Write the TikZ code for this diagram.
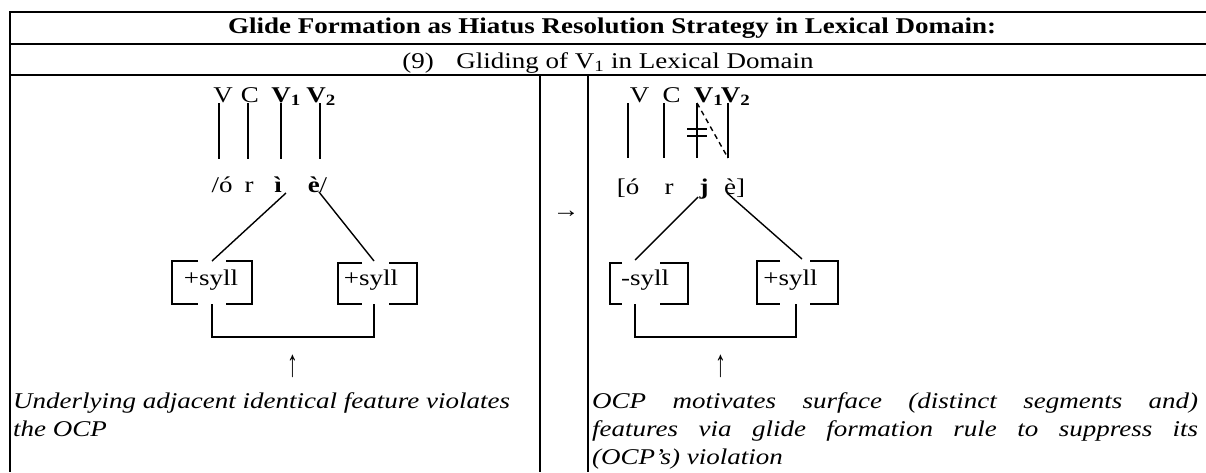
\documentclass[tikz,border=0pt]{standalone}
\usepackage{fontspec}
\setmainfont[FakeStretch=1.2]{Liberation Serif}
\newcommand{\uparr}{\scalebox{0.8}[1.7]{↑}}
\begin{document}
\begin{tikzpicture}[x=1pt,y=-1pt,
  font=\fontsize{22.5}{27}\selectfont,
  rule/.style={line width=2pt},
  cell/.style={line width=1.3pt},
  tree/.style={line width=1.4pt},
  seg/.style={inner sep=0pt, anchor=base},
  feat/.style={inner sep=0pt, anchor=base},
  note/.style={inner sep=0pt, anchor=base west, font=\fontsize{22.5}{27}\selectfont\itshape},
]
\useasboundingbox (0,0) rectangle (1206,472);

% ---- table frame ----
\draw[rule] (10,12) -- (1206,12);
\draw[rule] (10,43.5) -- (1206,43.5);
\draw[rule] (10,75) -- (1206,75);
\draw[rule] (10,11) -- (10,472);
\draw[cell] (540,75) -- (540,472);
\draw[cell] (588,75) -- (588,472);

\node[anchor=base] (title) at (612,33) {\bfseries Glide Formation as Hiatus Resolution Strategy in Lexical Domain:};
\node[anchor=base] (sub) at (608,68.5) {(9)\quad Gliding of V\textsubscript{1} in Lexical Domain};

% ---- left cell: underlying form ----
\node[seg] (lV)  at (223,102) {V};
\node[seg] (lC)  at (250,102) {C};
\node[seg] (lV1) at (286,102) {\textbf{V\textsubscript{1}}};
\node[seg] (lV2) at (321,102) {\textbf{V\textsubscript{2}}};

\node[seg] (lo) at (222,192) {/ó};
\node[seg] (lr) at (249,192) {r};
\node[seg] (li) at (278,192) {\textbf{ì}};
\node[seg] (le) at (317.5,192) {\textbf{è}/};

\foreach \n/\x in {a/219,b/248,c/281,d/320}{
  \coordinate (lt\n) at (\x,103);
  \coordinate (lb\n) at (\x,159);
  \draw[tree] (lt\n) -- (lb\n);
}

% feature boxes
\node[feat] (lf1) at (211,285) {+syll};
\node[feat] (lf2) at (371,285) {+syll};
\coordinate (lg1) at (212,261);
\coordinate (lg2) at (374,261);
\coordinate (lis) at (286,193);
\coordinate (les) at (319,192);
\draw[tree] (lis) -- (lg1);
\draw[tree] (les) -- (lg2);
% brackets
\draw[tree] (198,261) -- (172,261) -- (172,304) -- (198,304);
\draw[tree] (226,261) -- (252,261) -- (252,304) -- (226,304);
\draw[tree] (362,263) -- (338,263) -- (338,304) -- (362,304);
\draw[tree] (389,263) -- (417,263) -- (417,304) -- (389,304);
% linking line
\coordinate (lh1) at (212,304);
\coordinate (lh2) at (374,304);
\draw[tree] (lh1) -- (212,337) -- (374,337) -- (lh2);

\node[inner sep=0pt] (lup) at (293,366) {\uparr};
\node[note] (lnote1) at (13,408) {Underlying adjacent identical feature violates};
\node[note] (lnote2) at (13,436) {the OCP};

% ---- middle cell ----
\node[inner sep=0pt] (arr) at (566,214) {→};

% ---- right cell: surface form ----
\node[seg] (rV)  at (639.5,102) {V};
\node[seg] (rC)  at (671.5,102) {C};
\node[seg] (rV1) at (708.5,102) {\textbf{V\textsubscript{1}}};
\node[seg] (rV2) at (735.5,102) {\textbf{V\textsubscript{2}}};

\node[seg] (ro) at (628,194) {[ó};
\node[seg] (rr) at (669,194) {r};
\node[seg] (rj) at (704,194) {\textbf{j}};
\node[seg] (re) at (734.5,194) {è]};

\foreach \n/\x in {a/628,b/664,c/697,d/728}{
  \coordinate (rt\n) at (\x,103);
  \coordinate (rb\n) at (\x,158);
  \draw[tree] (rt\n) -- (rb\n);
}
% delinked V1 and new association to V2
\draw[tree] (687,129) -- (707,129);
\draw[tree] (687,136) -- (707,136);
\draw[tree, dash pattern=on 5pt off 4pt] (rtc) -- (rbd);

\node[feat] (rf1) at (645,285) {-syll};
\node[feat] (rf2) at (790.5,285) {+syll};
\coordinate (rg1) at (635,260);
\coordinate (rg2) at (802,259);
\coordinate (rjs) at (698,197);
\coordinate (res) at (727,193);
\draw[tree] (rjs) -- (rg1);
\draw[tree] (res) -- (rg2);
\draw[tree] (622,263) -- (610,263) -- (610,304) -- (622,304);
\draw[tree] (660,263) -- (688,263) -- (688,304) -- (660,304);
\draw[tree] (780,261) -- (757,261) -- (757,304) -- (780,304);
\draw[tree] (810,261) -- (838,261) -- (838,304) -- (810,304);
\coordinate (rh1) at (635,304);
\coordinate (rh2) at (796,304);
\draw[tree] (rh1) -- (635,337) -- (796,337) -- (rh2);

\node[inner sep=0pt] (rup) at (721,366) {\uparr};
\node[note] (rnote1) at (592,408) {\makebox[606pt][s]{OCP motivates surface (distinct segments and)}};
\node[note] (rnote2) at (592,436) {\makebox[606pt][s]{features via glide formation rule to suppress its}};
\node[note] (rnote3) at (592,464) {(OCP\char"27 s) violation};
\end{tikzpicture}
\end{document}
